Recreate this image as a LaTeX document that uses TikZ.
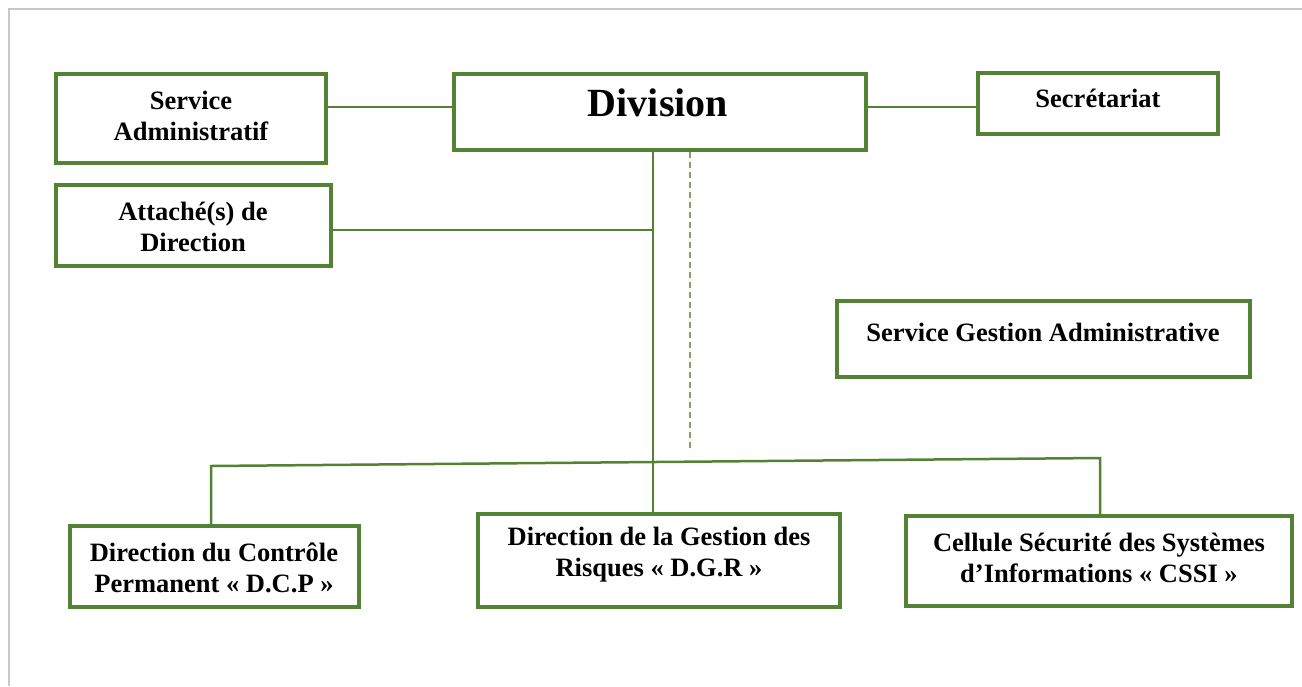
\documentclass[tikz,border=0pt]{standalone}
\usepackage{fontspec}
\setmainfont{Liberation Serif}
\definecolor{orggreen}{RGB}{84,130,53}
\definecolor{framegray}{RGB}{200,200,200}
\begin{document}
\begin{tikzpicture}[x=1pt,y=-1pt,
  box/.style={draw=orggreen, line width=4pt, rectangle, inner sep=0pt, fill=white},
  lbl/.style={font=\fontsize{26.5}{31}\selectfont\bfseries, align=center, inner sep=0pt},
  biglbl/.style={font=\fontsize{40}{44}\selectfont\bfseries, inner sep=0pt},
  link/.style={draw=orggreen, line width=2.5pt},
  dashlink/.style={draw=orggreen!75, line width=1.8pt, dash pattern=on 6pt off 4pt}]

\useasboundingbox (0,0) rectangle (1302,686);

% page frame (top and left edges)
\draw[framegray, line width=1.5pt] (1302,9) -- (9,9) -- (9,686);

% boxes
\node[box, minimum width=270pt, minimum height=89pt] (sa)  at (191,118.5) {};
\node[box, minimum width=275pt, minimum height=81pt] (att) at (193.5,225.5) {};
\node[box, minimum width=412pt, minimum height=76pt] (div) at (660,112) {};
\node[box, minimum width=240pt, minimum height=61pt] (sec) at (1098,103.5) {};
\node[box, minimum width=413pt, minimum height=76pt] (sga) at (1043.5,339) {};
\node[box, minimum width=289pt, minimum height=81pt] (dcp) at (214.5,566.5) {};
\node[box, minimum width=362pt, minimum height=93pt] (dgr) at (659,560.5) {};
\node[box, minimum width=386pt, minimum height=90pt] (css) at (1099,561) {};

% labels
\node[lbl] (sa-t)  at (191,116)  {Service\\Administratif};
\node[lbl] (att-t) at (193,227)  {Attaché(s) de\\Direction};
\node[biglbl] (div-t) at (658,103) {Division};
\node[lbl] (sec-t) at (1098,98)  {Secrétariat};
\node[lbl] (sga-t) at (1043,332) {Service Gestion Administrative};
\node[lbl] (dcp-t) at (214,568)  {Direction du Contrôle\\Permanent « D.C.P »};
\node[lbl] (dgr-t) at (659,555)  {Direction de la Gestion des\\Risques « D.G.R »};
\node[lbl] (css-t) at (1099,558) {Cellule Sécurité des Systèmes\\d’Informations « CSSI »};

% junction points
\coordinate (ytop) at (0,107);
\coordinate (trunk) at (653,0);
\coordinate (attj) at (653,230);
\coordinate (busL) at (211,466);
\coordinate (busR) at (1100,458);
\coordinate (dashB) at (690,452);

% connectors
\draw[link] (sa.east |- ytop) -- (div.west |- ytop);
\draw[link] (div.east |- ytop) -- (sec.west |- ytop);
\draw[link] (div.south -| trunk) -- (dgr.north -| trunk);
\draw[link] (att.east |- attj) -- (attj);
\draw[link] (dcp.north -| busL) -- (busL) -- (busR) -- (css.north -| busR);
\draw[dashlink] (div.south -| dashB) -- (dashB);

\end{tikzpicture}
\end{document}
